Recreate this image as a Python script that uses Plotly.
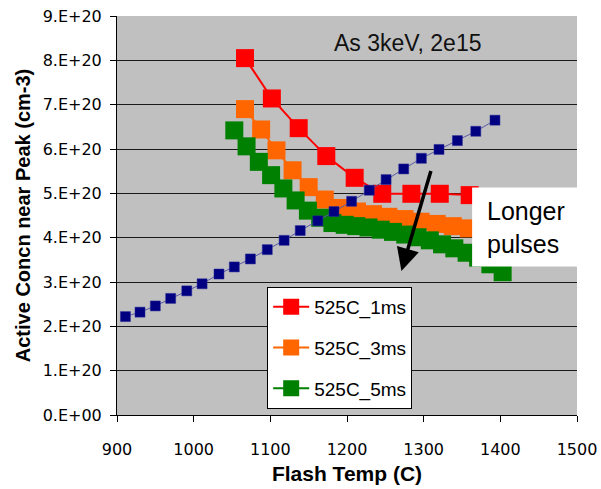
import plotly.graph_objects as go

# ---- data ----
temp_1ms = [1067, 1102, 1137, 1173, 1210, 1246, 1284, 1321, 1360]
conc_1ms = [8.05e20, 7.14e20, 6.47e20, 5.84e20, 5.35e20, 4.99e20, 4.99e20, 4.99e20, 4.96e20]

temp_3ms = [1067, 1088, 1108, 1129, 1150, 1171, 1192, 1213, 1234, 1254, 1275, 1296, 1317, 1338, 1359]
conc_3ms = [6.90e20, 6.44e20, 5.97e20, 5.52e20, 5.14e20, 4.86e20, 4.67e20, 4.59e20, 4.53e20,
            4.47e20, 4.42e20, 4.36e20, 4.31e20, 4.26e20, 4.21e20]

temp_5ms = [1053, 1069, 1085, 1101, 1117, 1133, 1149, 1165, 1181, 1197, 1212, 1228, 1244,
            1260, 1276, 1292, 1308, 1324, 1340, 1356, 1371, 1387, 1403]
conc_5ms = [6.42e20, 6.06e20, 5.71e20, 5.41e20, 5.11e20, 4.84e20, 4.61e20, 4.45e20, 4.33e20,
            4.29e20, 4.26e20, 4.23e20, 4.18e20, 4.13e20, 4.07e20, 4.01e20, 3.94e20, 3.85e20,
            3.76e20, 3.66e20, 3.55e20, 3.40e20, 3.22e20]

temp_ref = [911, 930, 950, 970, 991, 1011, 1033, 1053, 1074, 1096, 1118, 1139, 1162, 1183,
            1206, 1229, 1251, 1274, 1297, 1320, 1344, 1368, 1393]
conc_ref = [2.22e20, 2.32e20, 2.46e20, 2.63e20, 2.80e20, 2.96e20, 3.18e20, 3.34e20, 3.52e20,
            3.73e20, 3.94e20, 4.16e20, 4.38e20, 4.59e20, 4.82e20, 5.07e20, 5.31e20, 5.55e20,
            5.79e20, 5.99e20, 6.19e20, 6.40e20, 6.65e20]

x_ticks = [900, 1000, 1100, 1200, 1300, 1400, 1500]
y_ticks = [0, 1e20, 2e20, 3e20, 4e20, 5e20, 6e20, 7e20, 8e20, 9e20]
y_ticktext = ["0.E+00", "1.E+20", "2.E+20", "3.E+20", "4.E+20", "5.E+20",
              "6.E+20", "7.E+20", "8.E+20", "9.E+20"]

series_names = ["525C_1ms", "525C_3ms", "525C_5ms"]
note_text = "As 3keV, 2e15"
box_text = "Longer<br>pulses"

# ---- figure ----
fig = go.Figure()
series = [(temp_1ms, conc_1ms, "#FF0000"), (temp_3ms, conc_3ms, "#FF6600"), (temp_5ms, conc_5ms, "#008000")]
for i, (xs, ys, col) in enumerate(series):
    fig.add_trace(go.Scatter(
        x=xs, y=ys, name=series_names[i], mode="lines+markers",
        line=dict(color=col, width=2),
        marker=dict(symbol="square", size=18, color=col, line=dict(width=0)),
        legendgroup=series_names[i],
    ))

fig.add_trace(go.Scatter(
    x=temp_ref, y=conc_ref, mode="lines+markers", showlegend=False,
    line=dict(color="#5a5aa8", width=1),
    marker=dict(symbol="square", size=10, color="#000080", line=dict(width=0.5, color="#2a2a9a")),
))

fig.update_layout(
    width=601, height=489,
    margin=dict(l=117, r=24, t=16, b=74),
    paper_bgcolor="white", plot_bgcolor="#C0C0C0",
    font=dict(family="Liberation Sans, Arial, sans-serif", color="black"),
    legend=dict(
        x=0.3265, y=0.321, xanchor="left", yanchor="top",
        bgcolor="white", bordercolor="black", borderwidth=1,
        font=dict(family="Liberation Sans, Arial, sans-serif", size=19, color="black"),
        tracegroupgap=13, itemwidth=36,
    ),
    showlegend=True,
)

fig.update_xaxes(
    range=[900, 1500], tickvals=x_ticks, showgrid=False, zeroline=False, automargin=False,
    showline=True, linecolor="black", linewidth=1,
    ticks="outside", ticklen=6, tickcolor="black", ticklabelstandoff=14,
    ticklabeloverflow="allow",
    tickfont=dict(family="DejaVu Sans", size=16, color="black"),
    title=dict(text="<b>Flash Temp (C)</b>", font=dict(size=21, family="Liberation Sans, Arial"), standoff=8),
)
fig.update_yaxes(
    range=[0, 9e20], tickvals=y_ticks, ticktext=y_ticktext, automargin=False,
    showgrid=True, gridcolor="#1a1a1a", gridwidth=1, zeroline=False,
    showline=True, linecolor="black", linewidth=1,
    ticks="outside", ticklen=6, tickcolor="black", ticklabelstandoff=5,
    ticklabeloverflow="allow",
    tickfont=dict(family="DejaVu Sans", size=16, color="black"),
    title=dict(text="<b>Active Concn near Peak (cm-3)</b>", font=dict(size=20, family="Liberation Sans, Arial"), standoff=6),
)

# white box behind "Longer pulses"
fig.add_shape(type="rect", xref="paper", yref="paper", x0=0.772, x1=1.003, y0=0.372, y1=0.570,
              fillcolor="white", line=dict(width=0), layer="above")

fig.add_annotation(xref="paper", yref="paper", x=0.8, y=0.471, xanchor="left", yanchor="middle",
                   text=box_text, showarrow=False, align="left",
                   font=dict(size=25, family="Liberation Sans, Arial", color="black"))

fig.add_annotation(xref="paper", yref="paper", x=0.633, y=0.933, xanchor="center", yanchor="middle",
                   text=note_text, showarrow=False,
                   font=dict(size=23, family="Liberation Sans, Arial", color="#111111"))

# arrow
fig.add_annotation(x=1271, y=3.25e20, ax=1310, ay=5.54e20, xref="x", yref="y", axref="x", ayref="y",
                   text="", showarrow=True, arrowhead=2, arrowsize=1.3, arrowwidth=3.5, arrowcolor="black")

# remove the default 8px page margin so the figure sits at the window's corner
fig.write_html("out.html", config={"displayModeBar": False},
               post_script="document.body.style.margin='0';")
